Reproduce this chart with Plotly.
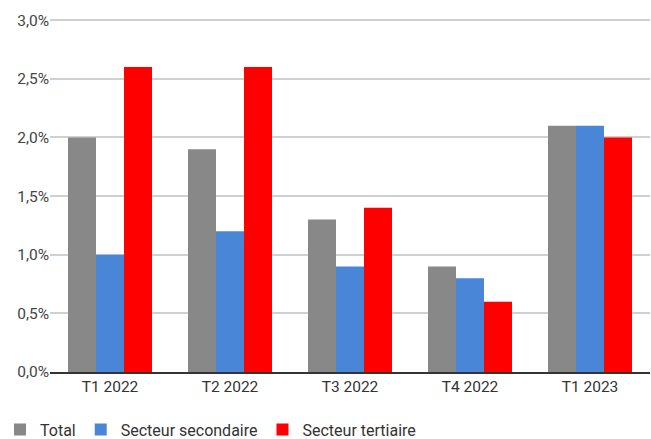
import plotly.graph_objects as go

quarters = ["T1 2022", "T2 2022", "T3 2022", "T4 2022", "T1 2023"]
total = [2.0, 1.9, 1.3, 0.9, 2.1]
secondaire = [1.0, 1.2, 0.9, 0.8, 2.1]
tertiaire = [2.6, 2.6, 1.4, 0.6, 2.0]
y_ticks = [0, 0.5, 1.0, 1.5, 2.0, 2.5, 3.0]
y_labels = ["0,0%", "0,5%", "1,0%", "1,5%", "2,0%", "2,5%", "3,0%"]

series = [
    ("Total", total, "#888888"),
    ("Secteur secondaire", secondaire, "#4a86d8"),
    ("Secteur tertiaire", tertiaire, "#ff0000"),
]

fig = go.Figure()
for name, vals, color in series:
    fig.add_trace(go.Bar(x=quarters, y=vals, name=name, marker_color=color,
                         marker_line_width=0))

fig.update_layout(
    width=651, height=439,
    margin=dict(l=50, r=1, t=19, b=67, autoexpand=False),
    barmode="group", bargap=0.3, bargroupgap=0,
    plot_bgcolor="white", paper_bgcolor="white",
    font=dict(family="Roboto", size=15.5, color="#444444"),
    legend=dict(orientation="h", xref="container", x=-0.008, xanchor="left",
                yref="paper", y=-0.163, yanchor="middle",
                font=dict(size=16, color="#333333"), itemwidth=30,
                tracegroupgap=0),
    xaxis=dict(showline=True, linecolor="#333333", linewidth=1.5, ticks="",
               automargin=False, tickfont=dict(size=15.5, color="#333333")),
    yaxis=dict(range=[0, 3.01], tickvals=y_ticks, ticktext=y_labels,
               showgrid=True, gridcolor="#d0d0d0", gridwidth=1.5, zeroline=False,
               automargin=False, ticks="", ticklen=0,
               tickfont=dict(size=15.5, color="#444444")),
)

fig.write_html("out.html")
